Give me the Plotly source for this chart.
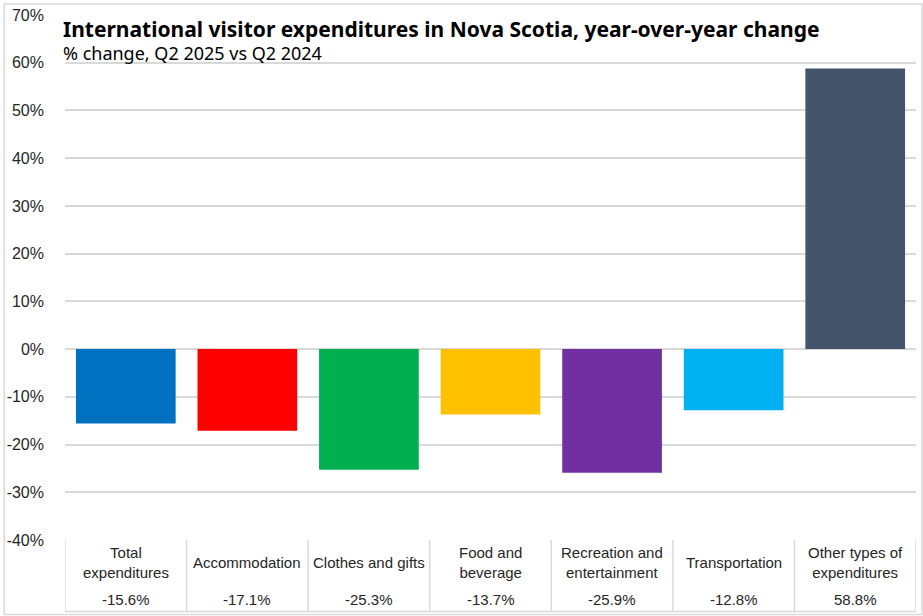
import plotly.graph_objects as go

categories = ["Total<br>expenditures", "Accommodation", "Clothes and gifts", "Food and<br>beverage",
              "Recreation and<br>entertainment", "Transportation", "Other types of<br>expenditures"]
values = [-15.6, -17.1, -25.3, -13.7, -25.9, -12.8, 58.8]
colors = ["#0070C0", "#FF0000", "#00B050", "#FFC000", "#7030A0", "#00B0F0", "#44546A"]
y_ticks = list(range(-40, 71, 10))
title = "International visitor expenditures in Nova Scotia, year-over-year change"
subtitle = "% change, Q2 2025 vs Q2 2024"

W, H = 923, 616
ml, mr, mt, mb = 62, 7, 12, 76
pw, ph = W - ml - mr, H - mt - mb

fig = go.Figure()
xs = list(range(len(categories)))
fig.add_trace(go.Bar(x=xs, y=values, marker=dict(color=colors, line=dict(width=0)), width=0.82,
                     hoverinfo="skip"))

grid = "#d9d9d9"
shapes = []
for i in range(len(categories) + 1):
    shapes.append(dict(type="line", xref="x", yref="paper", x0=i - 0.5, x1=i - 0.5,
                       y0=0, y1=-72 / ph, line=dict(color=grid, width=1.5)))
shapes.append(dict(type="line", xref="x", yref="paper", x0=-0.5, x1=len(categories) - 0.5,
                   y0=-72 / ph, y1=-72 / ph, line=dict(color=grid, width=1.5)))
shapes.append(dict(type="rect", xref="paper", yref="paper",
                   x0=-(ml - 1) / pw, x1=1 + (mr - 1) / pw, y0=-(mb - 1) / ph, y1=1 + (mt - 1) / ph,
                   line=dict(color=grid, width=1.5)))

tfont = dict(family="Liberation Sans, Arial", size=15, color="#262626")
annotations = []
for i, (c, v) in enumerate(zip(categories, values)):
    annotations.append(dict(x=i, xref="x", yref="paper", y=-23 / ph, text=c, showarrow=False,
                            font=tfont, yanchor="middle", xanchor="center"))
    annotations.append(dict(x=i, xref="x", yref="paper", y=-60 / ph, text=f"{v:.1f}%", showarrow=False,
                            font=tfont, yanchor="middle", xanchor="center"))
annotations.append(dict(x=0, xref="paper", yref="paper", y=1 - 25 / ph, xshift=-3,
                        text=f"<span style='font-size:21px'><b>{title}</b></span><br>{subtitle}",
                        showarrow=False, xanchor="left", yanchor="middle", align="left", borderpad=0,
                        font=dict(family="Noto Sans, Open Sans", size=18, color="#000000")))

fig.update_layout(
    width=W, height=H, margin=dict(l=ml, r=mr, t=mt, b=mb),
    plot_bgcolor="white", paper_bgcolor="white", showlegend=False,
    xaxis=dict(range=[-0.5, len(categories) - 0.5], showticklabels=False, showgrid=False,
               zeroline=False, showline=False, fixedrange=True),
    yaxis=dict(range=[-40, 70], tickvals=y_ticks, ticktext=[f"{t}%" for t in y_ticks],
               showgrid=True, gridcolor=grid, gridwidth=1.5, zeroline=True, zerolinecolor=grid,
               zerolinewidth=1.5, showline=False, ticks="", ticklabelstandoff=20,
               tickfont=dict(family="Liberation Sans, Arial", size=16, color="#262626")),
    shapes=shapes, annotations=annotations,
)
fig.write_html("out.html", config={"displayModeBar": False},
               post_script="document.body.style.margin='0';document.body.style.overflow='hidden';")
